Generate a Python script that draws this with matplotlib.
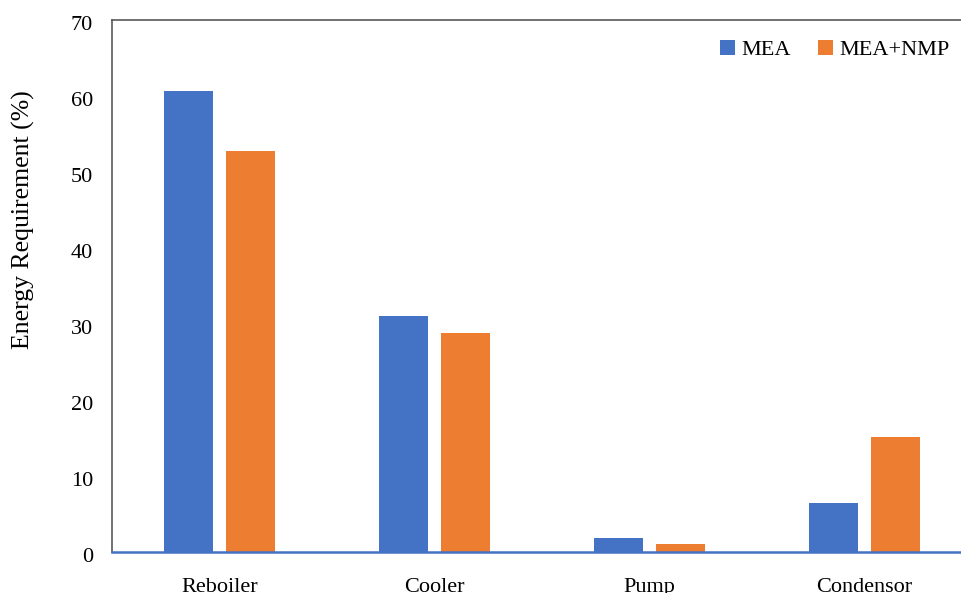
import matplotlib
matplotlib.use("Agg")
import matplotlib.pyplot as plt
import matplotlib.transforms as mtransforms
import numpy as np

categories = ["Reboiler", "Cooler", "Pump", "Condensor"]
mea = [60.7, 31.1, 1.85, 6.45]
mea_nmp = [52.8, 28.8, 1.05, 15.1]
yticks = [0, 10, 20, 30, 40, 50, 60, 70]

plt.rcParams["font.family"] = ["Liberation Serif", "DejaVu Serif"]

fig = plt.figure(figsize=(9.62, 5.93), dpi=100)
ax = fig.add_axes([112/962, 1-552/593, 860/962, 532/593])

x = np.arange(len(categories))
w = 0.228
off = 0.142
ax.bar(x - off, mea, w, color="#4472C4", label="MEA", zorder=2)
ax.bar(x + off, mea_nmp, w, color="#ED7D31", label="MEA+NMP", zorder=2)

ax.set_xlim(-0.5, len(categories) - 0.5)
ax.set_ylim(0, 70)
ax.set_yticks(yticks)
ax.set_xticks(x)
ax.set_xticklabels(categories)
ax.tick_params(axis="both", length=0, labelsize=16, colors="black")
ax.tick_params(axis="y", pad=13.5)
ax.tick_params(axis="x", pad=19)

shift = mtransforms.ScaledTranslation(0, -3/100, fig.dpi_scale_trans)
for lab in ax.get_yticklabels():
    lab.set_transform(lab.get_transform() + shift)

for s in ["left", "top", "right"]:
    ax.spines[s].set_color("#595959")
    ax.spines[s].set_linewidth(1.2)
ax.spines["bottom"].set_color("#4472C4")
ax.spines["bottom"].set_linewidth(1.8)
ax.spines["bottom"].set_zorder(3)

ax.set_ylabel("Energy Requirement (%)", fontsize=18.5)
ax.yaxis.set_label_coords(-77/860, (552-220)/532)

leg = ax.legend(loc="upper right", bbox_to_anchor=((950-112)/860, 1 - 20/532),
                ncol=2, frameon=False, fontsize=16, handlelength=0.68, handleheight=0.68,
                handletextpad=0.3, columnspacing=1.2, borderaxespad=0, borderpad=0)

fig.savefig("out.png", dpi=100)
